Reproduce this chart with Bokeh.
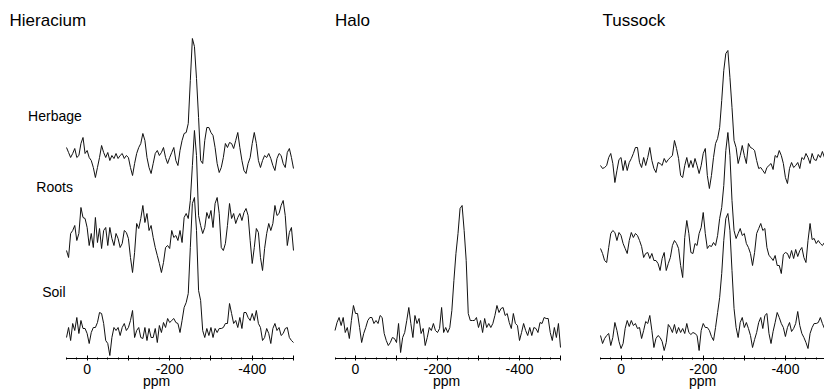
from bokeh.plotting import figure
from bokeh.layouts import row
from bokeh.models import Range1d, FixedTicker, Label
from bokeh.embed import file_html
from bokeh.resources import INLINE

# chemical shift grid (ppm), one sample every 5 ppm from +50 to -500
ppm = list(range(50, -501, -5))

# intensities (arbitrary units, baseline = 0)
hier_herbage = [11, 6, 1, 5, 10, 1, 3, 15, 21, 5, 8, 1, -2, -9, -19, -9, 1, 13, 6, 1,
                6, -2, 3, 0, 5, 0, 3, 5, 0, 3, 1, -9, -17, -5, 5, 11, 15, 25, 18, 1,
                -9, -15, -5, 5, 8, 3, 6, 11, 1, -5, 1, 6, 11, -2, -7, 8, 18, 25, 26, 35,
                78, 120, 112, 80, 41, -2, -5, 18, 31, 31, 26, 23, 11, -5, -14, -9, 1, 15, 11, 16,
                15, 10, 18, 26, 11, -2, -12, -15, -5, 1, 15, 26, 15, -2, -9, -2, 3, 1, 5, 0,
                -7, -12, 0, 5, 3, -5, -9, 6, 10, 1, -10]
hier_roots = [-10, -17, 7, 10, 15, 0, 7, 33, 23, 22, 13, -5, 7, -7, 23, -2, 12, -8, 10, 13,
              -5, 13, 2, -5, 7, 2, -7, -3, 10, 8, 2, -17, -32, -12, 17, 12, 22, 35, 18, 27,
              10, 15, 3, -7, -15, -23, -32, -22, -7, -5, -8, 10, 3, 5, 0, 10, -2, 23, 27, 22,
              40, 75, 110, 85, 25, 15, 7, 13, 28, 22, 30, 13, 37, 43, 27, -7, -10, -3, 15, 37,
              22, 27, 17, 23, 27, 20, 28, 32, 25, 0, -23, -7, 12, 8, -17, -30, -8, 7, 17, 10,
              17, 35, 25, 27, 35, 40, 25, -5, 8, 13, -10]
hier_soil = [-4, 6, -7, 10, 3, 16, 0, 13, 5, 5, 0, -10, 1, 6, 6, 11, 21, 20, 10, -7,
             -10, -22, -4, 6, 3, 6, -2, 6, 10, 3, 6, 13, 23, -4, 3, 6, -4, -5, 6, -7,
             5, -4, -4, 5, -9, 8, 1, 11, 6, 15, 11, 13, 15, 11, 10, 1, 13, 26, 31, 40,
             86, 130, 136, 103, 43, 33, 3, -4, 5, -2, 6, -4, 5, 1, 5, 5, 6, 10, 10, 30,
             20, 10, 13, 6, 16, 5, 21, 21, 16, 13, 20, 13, 23, 10, 6, -7, -4, 5, 0, -10,
             5, 10, 3, 6, -2, 0, 5, 6, -4, -7, -9]
halo_soil = [0, 8, 13, 5, 13, -2, 3, -8, 10, 25, 17, 17, 3, -12, -3, 3, 10, 13, 13, 7,
             10, 7, 15, 13, -3, -10, -15, -12, -7, -8, -12, 7, -22, -7, -2, 10, 23, 7, -7, 15,
             7, 12, -3, 2, -15, -7, 3, 0, 7, 0, -2, 2, 23, -2, 3, -2, 3, 20, 50, 77,
             97, 122, 125, 100, 70, 17, 10, 10, 10, 13, 3, 10, -2, 12, 3, 7, 3, 7, 15, 25,
             18, 22, 23, 15, 17, 8, 2, 17, 7, 5, -10, -2, 7, 0, -5, 3, -5, 3, 2, -2,
             8, 7, 13, 12, 12, -2, -10, 3, -7, 7, -17]
tuss_herbage = [2, -1, 0, 2, 10, 14, 4, -15, -3, 8, 10, -3, 7, -3, 5, 9, 14, 20, 20, 5,
                0, 10, 2, 10, 20, 7, -1, -5, 5, 4, 2, 9, 5, 8, 10, 12, 27, 19, 9, -8,
                -10, 2, 10, 0, 7, 0, 9, 2, -6, 2, 14, 19, -8, -21, -8, 10, 24, 29, 40, 67,
                97, 114, 117, 90, 60, 27, 20, 4, 12, 22, 12, 4, 24, 20, 19, 17, 7, -1, 0, -3,
                -6, 0, 2, 4, -2, 12, 10, 17, 12, 4, -10, -16, -1, 5, 0, 2, 5, -1, 10, 8,
                14, 10, 4, 14, 8, 7, 13, 10, 16, 10, 7]
tuss_roots = [2, -3, -10, -12, 3, 17, 20, 18, 10, 18, 15, 7, 2, -3, 10, 18, 13, 17, 15, 10,
              4, -7, -3, -2, -8, -3, -10, -10, -13, -20, -8, -2, -20, -13, -7, 5, 10, 7, 2, -15,
              -27, 13, 30, 17, -2, -3, 7, 5, 17, 23, 38, 17, 2, 5, 4, 8, 5, 15, 32, 43,
              65, 100, 118, 95, 50, 20, 12, 17, 22, 15, 17, 7, 3, -3, -15, -2, 17, 22, 27, 20,
              22, 3, -5, -7, -10, -5, -15, -15, -23, -4, -2, -3, -8, 0, -8, 1, -6, 0, 3, -7,
              -12, 10, 27, 11, 12, 7, 10, 7, 5, 8, 7]
tuss_soil = [2, -6, -1, 2, 4, -8, 0, 15, 7, -4, -11, -6, 9, 17, 11, 17, 12, 14, 9, 10,
             -1, 7, 16, 14, 22, 7, -10, -1, 2, 0, -4, -13, -5, 13, 10, 5, 13, 4, 10, 5,
             9, 4, 14, 5, 3, 5, 4, 2, -13, 7, 14, 10, 10, 7, 1, -3, 10, 25, 40, 64,
             97, 119, 124, 107, 67, 29, 10, 0, 15, 20, 10, 15, 9, 2, -10, -2, 5, 15, 20, 9,
             22, 24, 4, -6, 6, 15, 25, 20, 14, 10, 1, 10, 15, 6, 9, 14, 26, 12, 4, 0,
             -5, -11, 4, 10, 14, 14, 15, 20, 14, 9, 7]

panel_titles = ["Hieracium", "Halo", "Tussock"]
trace_names = ["Herbage", "Roots", "Soil"]
ppm_limits = (50, -500)
major_ticks = [0, -100, -200, -300, -400, -500]
minor_ticks = list(range(50, -501, -25))
tick_labels = {0: "0", -100: "", -200: "-200", -300: "", -400: "-400", -500: ""}

FONT = "Liberation Sans"
H = 391          # figure height
BOTTOM = 33      # space under the frame for the axis
TOP = H - BOTTOM


def panel(x0, x1, ax_left, ax_right, title, title_x, traces, offsets, names=None, name_pos=None):
    # pixel layout -> data range so that the ppm axis sits at [ax_left, ax_right]
    scale = (ax_right - ax_left) / (ppm_limits[0] - ppm_limits[1])
    start = ppm_limits[0] + (ax_left - x0) / scale
    end = ppm_limits[0] - (x1 - ax_left) / scale
    p = figure(width=x1 - x0, height=H, output_backend="svg", toolbar_location=None,
               x_range=Range1d(start, end), y_range=Range1d(0, TOP),
               y_axis_type=None, min_border_left=0, min_border_right=0,
               min_border_top=0, min_border_bottom=BOTTOM, outline_line_color=None,
               background_fill_color="white", border_fill_color="white")
    p.grid.visible = False
    ax = p.xaxis[0]
    ax.bounds = (ppm_limits[1], ppm_limits[0])
    ax.ticker = FixedTicker(ticks=major_ticks, minor_ticks=minor_ticks)
    ax.major_label_overrides = tick_labels
    ax.axis_label = "ppm"
    ax.axis_label_text_font = FONT
    ax.axis_label_text_font_size = "14px"
    ax.axis_label_text_font_style = "normal"
    ax.axis_label_text_color = "black"
    ax.axis_label_standoff = -4
    ax.major_label_text_font = FONT
    ax.major_label_text_font_size = "14px"
    ax.major_label_text_color = "black"
    ax.major_label_standoff = 3
    ax.axis_line_color = "black"
    ax.major_tick_line_color = "black"
    ax.minor_tick_line_color = "black"
    ax.major_tick_in = 3
    ax.major_tick_out = 2
    ax.minor_tick_in = 1
    ax.minor_tick_out = 1
    for ys, off in zip(traces, offsets):
        p.line(ppm, [v + off for v in ys], line_color="#111111", line_width=1)
    p.add_layout(Label(x=title_x, y=TOP - 20, text=title, text_font=FONT,
                       text_font_size="17px", text_color="black", text_baseline="alphabetic"))
    if names:
        for nm, (nx, ny) in zip(names, name_pos):
            p.add_layout(Label(x=nx, y=ny, text=nm, text_font=FONT, text_font_size="14px",
                               text_color="black", text_baseline="alphabetic"))
    return p


p1 = panel(0, 312, 66, 293, panel_titles[0], 188,
           [hier_herbage, hier_roots, hier_soil], [200, 118, 25],
           trace_names, [(143, 243), (123, 172), (109, 67)])
p2 = panel(312, 580, 334.5, 560, panel_titles[1], 50, [halo_soil], [28])
p3 = panel(580, 824, 600, 826, panel_titles[2], 45,
           [tuss_herbage, tuss_roots, tuss_soil], [191, 108, 21])

layout = row(p1, p2, p3)
open("out.html", "w").write(file_html(layout, INLINE))
